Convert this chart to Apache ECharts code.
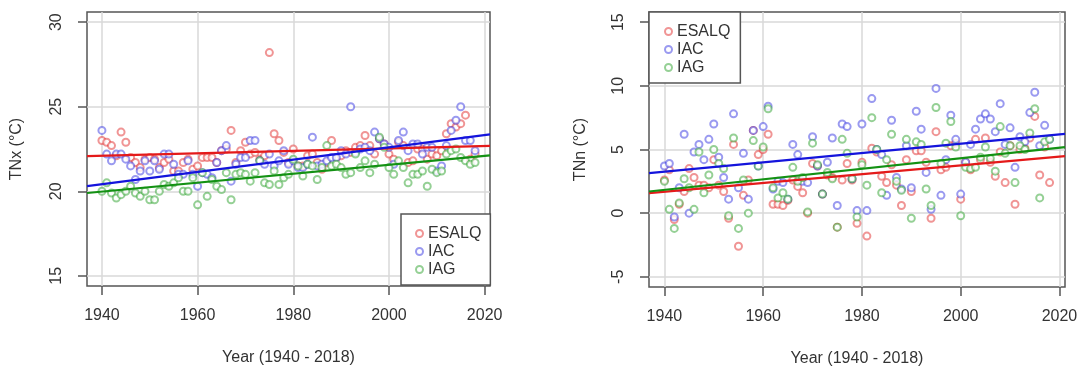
<!DOCTYPE html>
<html>
<head>
<meta charset="utf-8">
<script src="https://cdn.jsdelivr.net/npm/echarts@6/dist/echarts.min.js"></script>
<style>
html,body{margin:0;padding:0;background:#fff;}
#chart{width:1091px;height:372px;}
</style>
</head>
<body>
<div id="chart"></div>
<script>
// ---------- data ----------
const years = [];
for (let y = 1940; y <= 2018; y++) years.push(y);

const stations = ['ESALQ', 'IAC', 'IAG'];

const tnxESALQ = [23.0,22.9,22.7,22.1,23.5,22.9,22.0,21.7,21.4,21.9,
  22.0,21.9,21.4,21.7,21.9,21.2,21.2,21.7,21.9,21.3,
  21.5,22.0,22.0,22.0,21.7,22.4,22.5,23.6,21.7,22.4,
  22.9,22.2,22.3,21.9,22.1,28.2,23.4,23.0,22.3,21.7,
  22.5,21.5,21.5,22.1,22.2,21.7,21.3,21.7,23.0,22.0,
  22.1,22.4,22.3,22.6,22.7,23.3,22.7,22.2,23.1,22.8,
  22.2,21.9,22.9,22.7,21.7,21.8,22.5,22.5,21.9,22.2,
  22.1,22.4,23.4,24.0,23.8,24.0,24.5,21.9,22.2];
const tnxIAC = [23.6,22.2,21.8,22.2,22.2,21.9,21.5,20.7,21.2,21.8,
  21.2,21.8,21.3,22.2,22.2,21.6,21.0,21.0,21.8,21.0,
  20.3,21.1,21.0,20.8,21.7,22.4,22.7,20.6,21.6,22.0,
  22.0,23.0,23.0,21.8,21.6,22.2,21.5,21.8,22.4,21.6,
  21.8,21.4,21.4,21.6,23.2,21.5,21.6,21.8,22.0,22.0,
  22.4,22.2,25.0,22.3,22.5,22.6,22.4,23.5,23.1,22.8,
  22.6,21.6,23.0,23.5,22.4,22.8,22.8,22.2,22.6,22.6,
  21.2,21.5,22.7,23.6,24.2,25.0,23.0,23.0,22.4];
const tnxIAG = [20.0,20.5,19.9,19.6,19.8,20.0,20.3,19.9,19.7,20.0,
  19.5,19.5,20.0,20.4,20.3,20.5,20.8,20.0,20.0,20.8,
  19.2,21.1,19.7,20.7,20.3,20.1,21.1,19.5,21.0,21.1,
  21.0,20.6,21.1,21.8,20.5,20.4,21.2,20.4,20.8,21.0,
  21.9,21.5,20.9,21.6,21.5,20.7,21.4,22.7,21.5,21.6,
  21.4,21.0,21.1,22.2,21.4,21.8,21.1,21.6,23.2,22.6,
  21.4,21.0,21.8,21.4,20.5,21.0,21.0,21.2,20.3,21.3,
  21.1,21.2,22.2,22.4,22.5,22.0,21.8,21.6,21.7];

const tnnESALQ = [2.6,3.4,-0.5,0.7,1.7,3.5,2.8,2.2,2.2,2.0,
  4.2,2.2,1.7,-0.4,5.4,-2.6,1.4,2.6,6.5,4.6,
  5.0,6.2,0.7,0.7,0.6,1.0,2.6,2.1,1.6,0.0,
  3.9,3.7,1.5,3.0,2.8,-1.1,2.6,3.9,2.6,-0.8,
  4.0,-1.8,5.1,4.8,2.9,2.4,3.8,2.2,0.6,4.2,
  1.7,4.9,4.9,4.0,-0.4,6.4,3.4,3.6,5.3,5.5,
  1.1,4.0,3.4,5.8,4.2,5.9,4.0,2.9,4.8,2.4,
  5.3,0.7,5.0,5.1,5.9,7.6,3.0,5.2,2.4];
const tnnIAC = [3.7,3.9,-0.3,2.0,6.2,0.0,4.8,5.4,4.2,5.8,
  7.0,4.4,2.8,1.1,7.8,2.0,4.7,1.1,6.5,3.7,
  6.8,8.4,1.9,2.5,2.4,1.1,5.4,4.6,2.5,2.4,
  6.0,3.7,1.5,4.0,5.9,0.6,7.0,6.8,2.7,0.2,
  7.0,0.2,9.0,5.0,4.6,1.4,7.3,2.8,1.9,5.3,
  2.0,8.0,6.6,3.2,0.3,9.8,1.4,4.2,7.7,5.8,
  1.5,4.0,5.4,6.6,7.4,7.8,7.4,6.4,8.6,5.4,
  6.7,3.6,6.0,5.6,7.9,9.5,5.3,6.9,5.8];
const tnnIAG = [2.5,0.3,-1.2,0.8,2.7,2.0,0.3,4.8,1.6,3.0,
  5.0,3.9,3.5,-0.2,5.9,-1.2,2.6,0.0,5.7,3.7,
  5.2,8.2,2.0,1.2,1.6,1.1,3.6,2.5,2.8,0.1,
  5.5,3.8,1.5,3.2,2.7,-1.1,5.8,4.7,2.7,-0.3,
  3.8,2.2,7.5,5.0,1.6,4.2,6.2,2.5,1.8,5.8,
  -0.4,5.6,5.4,1.9,0.6,8.3,3.9,5.5,7.2,5.2,
  -0.2,3.6,3.5,3.6,4.4,5.2,4.3,3.3,6.8,4.7,
  5.3,2.4,5.3,5.0,6.3,8.2,1.2,5.6,5.8];

// trend lines (values at the left and right edges of the plot region)
const xRange = [1936.88, 2021.12];
const tnxTrendESALQ = [22.08, 22.68];
const tnxTrendIAC = [20.30, 23.37];
const tnxTrendIAG = [19.90, 22.12];
const tnnTrendESALQ = [1.57, 4.48];
const tnnTrendIAC = [3.14, 6.23];
const tnnTrendIAG = [1.70, 5.18];

const xTicks = [1940, 1960, 1980, 2000, 2020];
const tnxTicks = [15, 20, 25, 30];
const tnnTicks = [-5, 0, 5, 10, 15];
const tnxRange = [14.4, 30.6];
const tnnRange = [-5.8, 15.8];

// ---------- styles ----------
const pointColors = {ESALQ: 'rgba(225,40,40,0.62)', IAC: 'rgba(50,50,225,0.62)', IAG: 'rgba(40,160,40,0.62)'};
const lineColors = {ESALQ: '#e41a1a', IAC: '#1414dc', IAG: '#139113'};
const FONT = '"Liberation Sans", Arial, sans-serif';
const TXT = '#333';
const FS = 16;

function zip(xs, ys) { return xs.map((x, i) => [x, ys[i]]); }

function xAxisCfg(gi) {
  return {
    type: 'value', gridIndex: gi, min: xRange[0], max: xRange[1],
    name: 'Year (1940 - 2018)', nameLocation: 'middle', nameGap: 64,
    nameTextStyle: {fontFamily: FONT, fontSize: FS, color: TXT},
    axisLine: {show: false, onZero: false},
    axisTick: {show: true, customValues: xTicks, length: 9, lineStyle: {color: '#555', width: 1.5}},
    axisLabel: {customValues: xTicks, formatter: v => String(v), fontFamily: FONT, fontSize: FS, color: TXT, margin: 22},
    splitLine: {show: true, lineStyle: {color: '#d9d9d9', width: 1.5}}
  };
}
function yAxisCfg(gi, name, range, ticks, gap) {
  return {
    type: 'value', gridIndex: gi, min: range[0], max: range[1],
    name: name, nameLocation: 'middle', nameGap: gap,
    nameTextStyle: {fontFamily: FONT, fontSize: FS, color: TXT},
    axisLine: {show: false, onZero: false},
    axisTick: {show: true, customValues: ticks, length: 9, lineStyle: {color: '#555', width: 1.5}},
    axisLabel: {customValues: ticks, formatter: v => String(v), rotate: 90, fontFamily: FONT, fontSize: FS, color: TXT, margin: 22},
    splitLine: {show: true, lineStyle: {color: '#d9d9d9', width: 1.5}}
  };
}

const series = [];
const tnxData = {ESALQ: tnxESALQ, IAC: tnxIAC, IAG: tnxIAG};
const tnnData = {ESALQ: tnnESALQ, IAC: tnnIAC, IAG: tnnIAG};
const tnxTrend = {ESALQ: tnxTrendESALQ, IAC: tnxTrendIAC, IAG: tnxTrendIAG};
const tnnTrend = {ESALQ: tnnTrendESALQ, IAC: tnnTrendIAC, IAG: tnnTrendIAG};

[[0, tnxData, tnxTrend], [1, tnnData, tnnTrend]].forEach(([gi, data, trend]) => {
  stations.forEach(s => {
    series.push({
      type: 'scatter', name: s, xAxisIndex: gi, yAxisIndex: gi,
      symbol: 'emptyCircle', symbolSize: 7,
      itemStyle: {color: pointColors[s], borderColor: pointColors[s], borderWidth: 1.4},
      data: zip(years, data[s]), z: 2
    });
  });
  stations.forEach(s => {
    series.push({
      type: 'line', name: s + ' trend', xAxisIndex: gi, yAxisIndex: gi,
      symbol: 'none', silent: true, z: 3,
      lineStyle: {color: lineColors[s], width: 2.2},
      data: zip(xRange, trend[s])
    });
  });
});

function legendCfg(pos, pad) {
  return Object.assign({
    data: stations, orient: 'vertical', itemWidth: 7, itemHeight: 7, itemGap: 1,
    backgroundColor: '#fff', borderColor: '#555', borderWidth: 1.5, borderRadius: 0,
    padding: pad, selectedMode: false, z: 10,
    textStyle: {fontFamily: FONT, fontSize: FS, color: TXT, lineHeight: 17}
  }, pos);
}

const chart = echarts.init(document.getElementById('chart'), null, {renderer: 'canvas'});
chart.setOption({
  animation: false,
  backgroundColor: '#fff',
  grid: [
    {left: 87, top: 12, width: 403, height: 274, show: true, borderColor: '#555', borderWidth: 1.5, backgroundColor: 'transparent'},
    {left: 649, top: 12, width: 416, height: 277, show: true, borderColor: '#555', borderWidth: 1.5, backgroundColor: 'transparent'}
  ],
  xAxis: [xAxisCfg(0), xAxisCfg(1)],
  yAxis: [yAxisCfg(0, 'TNx (°C)', tnxRange, tnxTicks, 62), yAxisCfg(1, 'TNn (°C)', tnnRange, tnnTicks, 60)],
  legend: [legendCfg({left: 401, top: 214}, [11, 9, 7, 14]), legendCfg({left: 649, top: 12}, [11, 10, 7, 15])],
  series: series
});
</script>
</body>
</html>
